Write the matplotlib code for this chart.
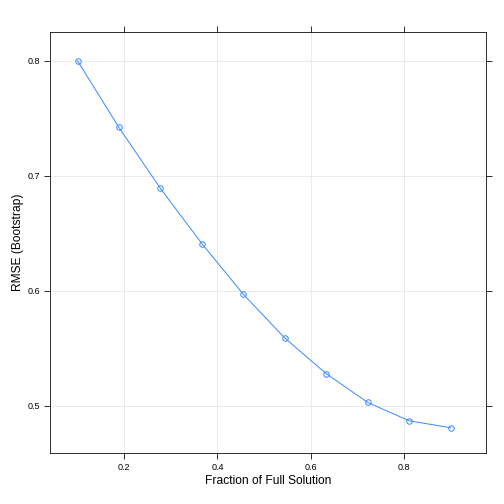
import matplotlib
matplotlib.use("Agg")
import matplotlib.pyplot as plt

plt.rcParams['font.family'] = ['Liberation Sans', 'DejaVu Sans']

fraction = [0.1, 0.1889, 0.2778, 0.3667, 0.4556, 0.5444, 0.6333, 0.7222, 0.8111, 0.9]
rmse = [0.800, 0.742, 0.689, 0.641, 0.597, 0.559, 0.528, 0.503, 0.487, 0.481]
xticks = [0.2, 0.4, 0.6, 0.8]
yticks = [0.5, 0.6, 0.7, 0.8]

fig = plt.figure(figsize=(7, 7), dpi=72)
ax = fig.add_axes([50/504, 1-453/504, 436/504, 421/504])
ax.plot(fraction, rmse, color="#3b8cff", lw=1, marker="o", ms=5.5,
        mfc="none", mec="#3b8cff", mew=1)
ax.set_xlim(0.041, 0.976)
ax.set_ylim(0.459, 0.825)
ax.set_xticks(xticks)
ax.set_yticks(yticks)
ax.set_xticklabels([str(t) for t in xticks])
ax.set_yticklabels([str(t) for t in yticks])
ax.grid(True, color="#e6e6e6", lw=0.8)
ax.set_axisbelow(True)
ax.tick_params(top=True, right=True, direction="out", labelsize=9, length=6)
ax.set_xlabel("Fraction of Full Solution", fontsize=12)
ax.set_ylabel("RMSE (Bootstrap)", fontsize=12)
fig.savefig("out.png", dpi=72)
